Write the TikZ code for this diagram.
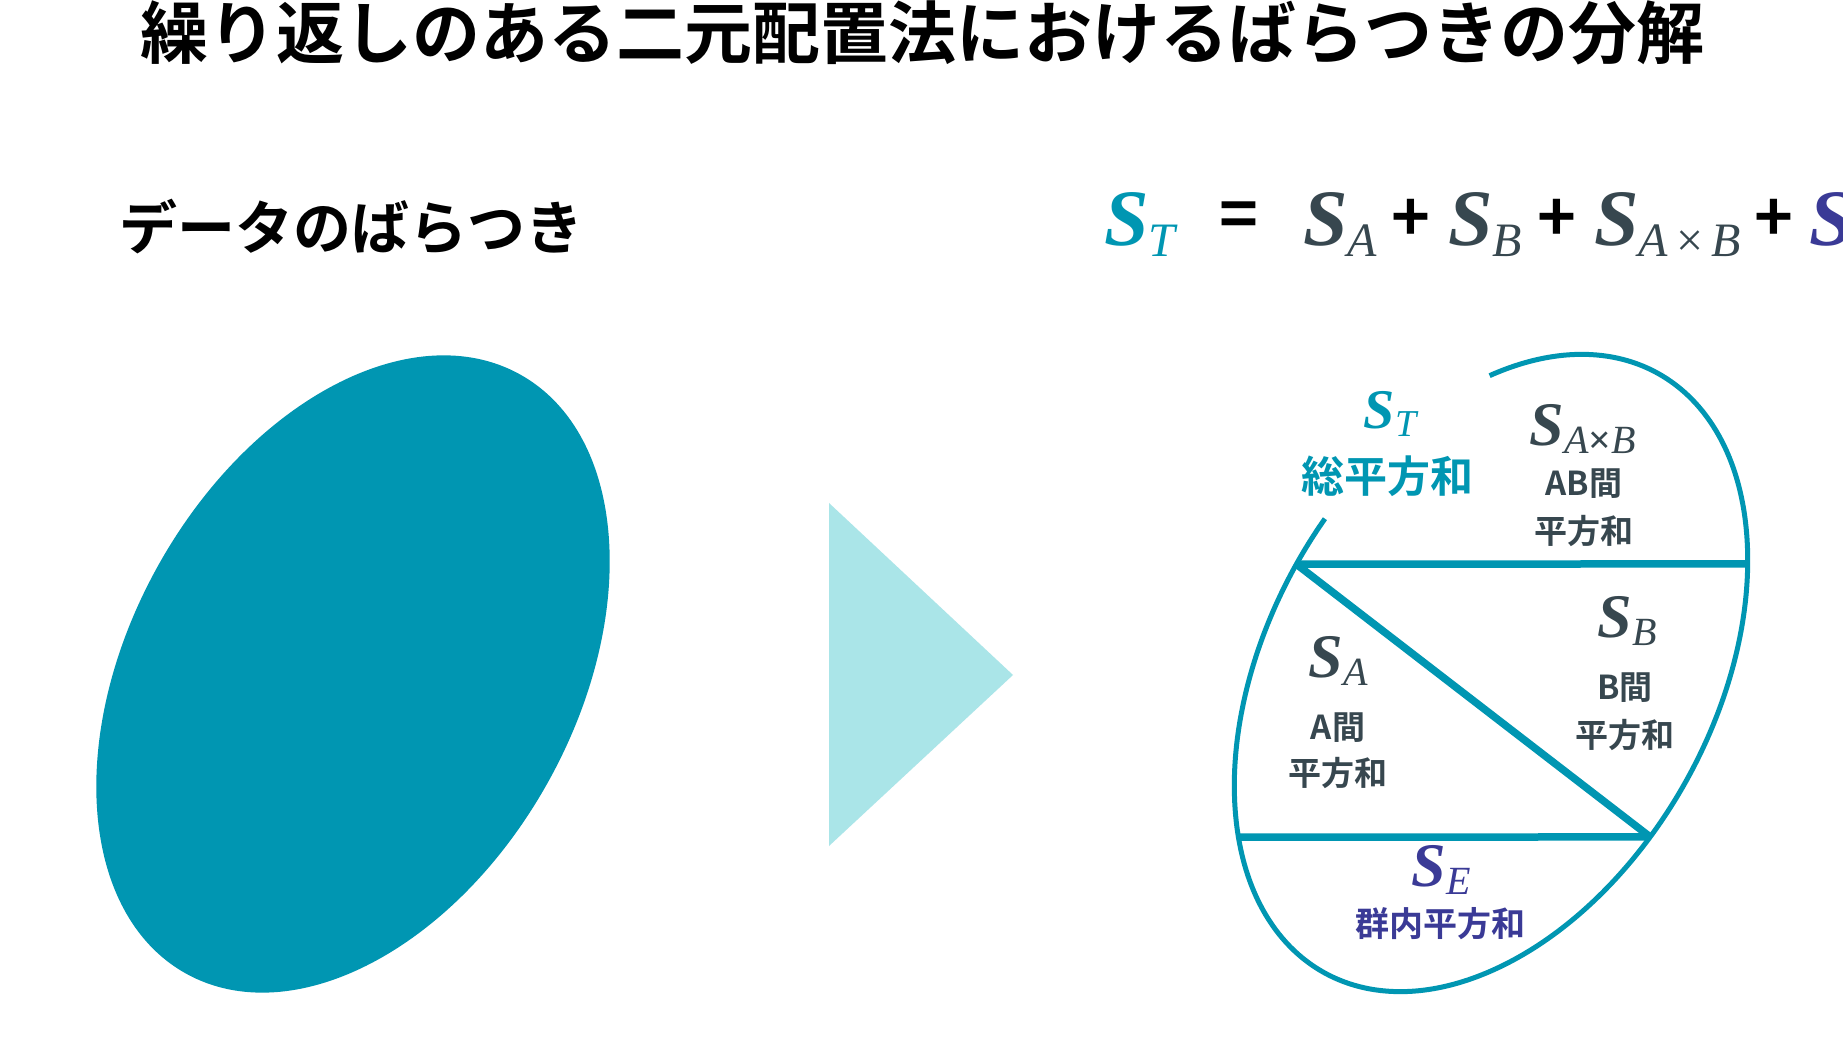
\documentclass[tikz,border=0pt]{standalone}
\usepackage{fontspec}
\newfontfamily\jp{Noto Sans CJK JP Bold}
\newfontfamily\tms{Liberation Serif}
\definecolor{tealc}{RGB}{0,150,178}
\definecolor{lightc}{RGB}{170,229,232}
\definecolor{darkc}{RGB}{55,71,79}
\definecolor{navyc}{RGB}{58,58,150}
\newcommand{\mySv}[3]{{\fontsize{#1}{#1}\selectfont\tms\bfseries\itshape S}{\fontsize{#2}{#2}\selectfont\tms\itshape\raisebox{-0.22em}{#3}}}
\newcommand{\jsz}[1]{\fontsize{#1}{#1}\selectfont\jp}
\tikzset{
  lbl/.style={inner sep=0pt, align=center},
  eqop/.style={inner sep=0pt, font=\jsz{66}},
  outline/.style={draw=tealc, line width=5pt},
  divline/.style={draw=tealc, line width=7.5pt}
}
\begin{document}
\begin{tikzpicture}[x=1pt,y=1pt]
\useasboundingbox (0,0) rectangle (1843,1036);
\fill[white] (0,0) rectangle (1843,1036);
% title
\node[lbl, font=\jsz{68}] (title) at (922,1003) {繰り返しのある二元配置法におけるばらつきの分解};
\node[lbl, font=\jsz{58}] (data) at (351,809) {データのばらつき};
% left ellipse
\fill[tealc, rotate around={60.8:(353,362)}] (353,362) ellipse [x radius=343, y radius=223];
\coordinate (ellc) at (353,362);
% triangle
\fill[lightc] (829,533) -- (829,190) -- (1013,361) -- cycle;
% equation
\node[anchor=base west, inner sep=0pt, text=tealc] (eqT) at (1104,790) {\mySv{80}{48}{T}};
\node[eqop] (eqs) at (1239,816) {=};
\node[anchor=base west, inner sep=0pt, text=darkc] (eqA) at (1303,790) {\mySv{80}{48}{A}};
\node[eqop] (pl1) at (1411,816) {+};
\node[anchor=base west, inner sep=0pt, text=darkc] (eqB) at (1448,790) {\mySv{80}{48}{B}};
\node[eqop] (pl2) at (1557,816) {+};
\node[anchor=base west, inner sep=0pt, text=darkc] (eqAB) at (1594,790) {\mySv{80}{48}{A\,{\upshape ×}\,B}};
\node[eqop] (pl3) at (1774,816) {+};
\node[anchor=base west, inner sep=0pt, text=navyc] (eqE) at (1809,790) {\mySv{80}{48}{E}};
% right diagram
\begin{scope}[shift={(1491,363)}, rotate=60.8]
  \draw[outline] (41:343 and 223) arc[start angle=41, end angle=-279, x radius=343, y radius=223];
  \coordinate (L1) at (90:343 and 223);
  \coordinate (R1) at (-50:343 and 223);
  \coordinate (L2) at (141:343 and 223);
  \coordinate (R2) at (-101:343 and 223);
\end{scope}
\draw[divline] (L1) -- (R1);
\draw[divline] (L1) -- (R2);
\draw[divline] (L2) -- (R2);
% labels
\node[lbl, text=tealc] (sT) at (1390,622) {\mySv{56}{38}{T}};
\node[lbl, text=tealc, font=\jsz{43}] (sTj) at (1387,560) {総平方和};
\node[lbl, text=darkc] (sAB) at (1583,607) {\mySv{62}{40}{A{\upshape\bfseries ×}B}};
\node[lbl, text=darkc, font=\jsz{33}] (sABj1) at (1584,552) {AB間};
\node[lbl, text=darkc, font=\jsz{33}] (sABj2) at (1584,505) {平方和};
\node[lbl, text=darkc] (sB) at (1627,415) {\mySv{62}{40}{B}};
\node[lbl, text=darkc, font=\jsz{33}] (sBj1) at (1625,348) {B間};
\node[lbl, text=darkc, font=\jsz{33}] (sBj2) at (1625,301) {平方和};
\node[lbl, text=darkc] (sA) at (1338,375) {\mySv{62}{40}{A}};
\node[lbl, text=darkc, font=\jsz{33}] (sAj1) at (1338,308) {A間};
\node[lbl, text=darkc, font=\jsz{33}] (sAj2) at (1338,263) {平方和};
\node[lbl, text=navyc] (sE) at (1441,166) {\mySv{62}{40}{E}};
\node[lbl, text=navyc, font=\jsz{34}] (sEj) at (1440,112) {群内平方和};
\end{tikzpicture}
\end{document}
